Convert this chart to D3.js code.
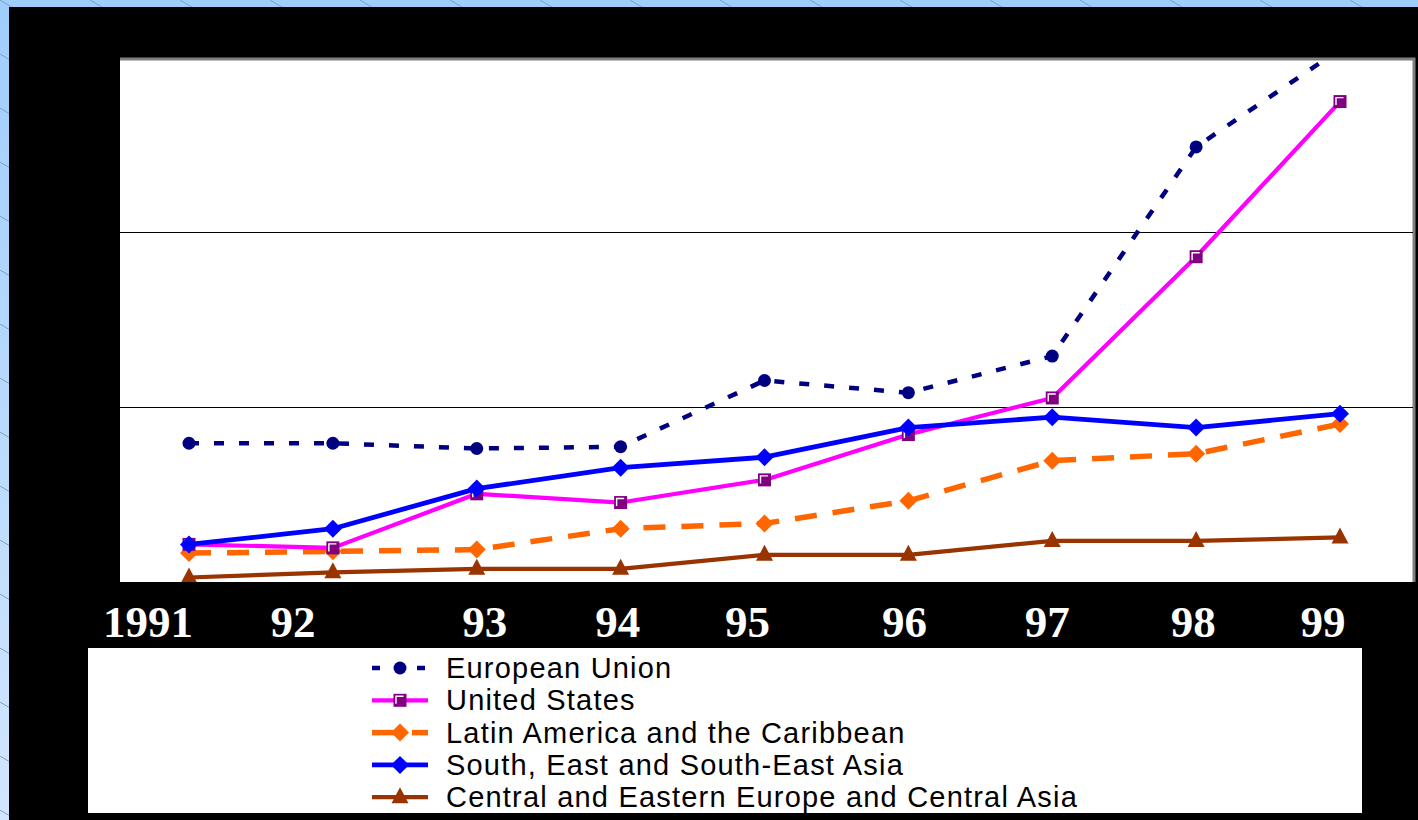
<!DOCTYPE html>
<html>
<head>
<meta charset="utf-8">
<script src="https://cdn.jsdelivr.net/npm/d3@7"></script>
<style>
  html, body { margin: 0; padding: 0; background: #ffffff; }
  svg { display: block; }
</style>
</head>
<body>
<svg id="chart" width="1418" height="820"></svg>
<script>
// ---- data ----
const years = ["1991", "92", "93", "94", "95", "96", "97", "98", "99"];
const seriesNames = [
  "European Union",
  "United States",
  "Latin America and the Caribbean",
  "South, East and South-East Asia",
  "Central and Eastern Europe and Central Asia"
];
const europeanUnion = [7.9, 7.9, 7.6, 7.7, 11.5, 10.8, 12.9, 24.9, 30.5];
const unitedStates  = [2.1, 1.9, 5.0, 4.5, 5.8, 8.4, 10.5, 18.6, 27.5];
const latinAmerica  = [1.6, 1.7, 1.8, 3.0, 3.3, 4.6, 6.9, 7.3, 9.0];
const asia          = [2.1, 3.0, 5.3, 6.5, 7.1, 8.8, 9.4, 8.8, 9.6];
const centralEurope = [0.2, 0.5, 0.7, 0.7, 1.5, 1.5, 2.3, 2.3, 2.5];
const gridValues = [10, 20];

// ---- layout ----
const W = 1418, H = 820;
const plot = { x0: 120, y0: 58, x1: 1413, y1: 582 };
const yMax = 30;
// horizontal nudges for the year labels under the plot
const labelNudge = [-41, -40, 8, -3, -17, -4, -5, -3, -17];

const svg = d3.select("#chart");
const defs = svg.append("defs");

// background: pale blue with faint diagonal hatching
const grad = defs.append("linearGradient").attr("id", "bgGrad")
  .attr("x1", 0).attr("y1", 0).attr("x2", 0).attr("y2", 1);
grad.append("stop").attr("offset", "0%").attr("stop-color", "#9fcdfc");
grad.append("stop").attr("offset", "100%").attr("stop-color", "#d2e6fd");

const hatch = defs.append("pattern").attr("id", "hatch")
  .attr("patternUnits", "userSpaceOnUse").attr("width", 90).attr("height", 54);
hatch.append("path").attr("d", "M0,0 L90,54")
  .attr("stroke", "#7f9ec4").attr("stroke-width", 1).attr("fill", "none");

svg.append("rect").attr("width", W).attr("height", H).attr("fill", "url(#bgGrad)");
svg.append("rect").attr("width", W).attr("height", H).attr("fill", "url(#hatch)");

// black panel
svg.append("rect").attr("x", 9).attr("y", 7).attr("width", W - 9).attr("height", H - 7)
  .attr("fill", "#000000");

// plot area
svg.append("rect").attr("x", plot.x0).attr("y", plot.y0)
  .attr("width", plot.x1 - plot.x0).attr("height", plot.y1 - plot.y0)
  .attr("fill", "#ffffff");
// gray frame along the top and right edges
svg.append("path")
  .attr("d", `M${plot.x0},${plot.y0 + 1} H${plot.x1 + 1} V${plot.y1}`)
  .attr("stroke", "#808080").attr("stroke-width", 3).attr("fill", "none");

defs.append("clipPath").attr("id", "plotClip")
  .append("rect").attr("x", plot.x0).attr("y", plot.y0 + 2.5)
  .attr("width", plot.x1 - plot.x0 - 0.5).attr("height", plot.y1 - plot.y0 - 2.5);

// scales
const x = d3.scalePoint().domain(years).range([189, 1340]);
const y = d3.scaleLinear().domain([0, yMax]).range([plot.y1 - 1, plot.y0]);

// gridlines
svg.append("g").selectAll("line").data(gridValues).join("line")
  .attr("x1", plot.x0).attr("x2", plot.x1)
  .attr("y1", d => Math.round(y(d)) + 0.5).attr("y2", d => Math.round(y(d)) + 0.5)
  .attr("stroke", "#000000").attr("stroke-width", 1.2);

// year labels
svg.append("g").selectAll("text").data(years).join("text")
  .attr("x", (d, i) => x(d) + labelNudge[i])
  .attr("y", 637)
  .attr("text-anchor", "middle")
  .attr("font-family", "'Liberation Serif', 'Times New Roman', serif")
  .attr("font-weight", "bold")
  .attr("font-size", 45)
  .attr("fill", "#ffffff")
  .text(d => d);

// marker drawers
const markers = {
  circle(g, color) {
    g.append("circle").attr("r", 6.5).attr("fill", color);
  },
  square(g, color) {
    g.append("rect").attr("x", -6.5).attr("y", -6.5).attr("width", 13).attr("height", 13)
      .attr("fill", color);
    g.append("path").attr("d", "M-4,3.5 V-4 H3.5")
      .attr("stroke", "#ffffff").attr("stroke-width", 1.4).attr("fill", "none");
  },
  diamond(g, color) {
    g.append("path").attr("d", "M0,-9 L9,0 L0,9 L-9,0 Z").attr("fill", color);
  },
  triangle(g, color) {
    g.append("path").attr("d", "M0,-10 L8.5,6 L-8.5,6 Z").attr("fill", color);
  }
};

const series = [
  { name: seriesNames[0], values: europeanUnion, line: "#000080", marker: "circle",  markColor: "#000080", width: 4.5, dash: "10,15" },
  { name: seriesNames[1], values: unitedStates,  line: "#ff00ff", marker: "square",  markColor: "#800080", width: 4.2, dash: null },
  { name: seriesNames[2], values: latinAmerica,  line: "#ff6600", marker: "diamond", markColor: "#ff6600", width: 5.5, dash: "22,16" },
  { name: seriesNames[3], values: asia,          line: "#0000ff", marker: "diamond", markColor: "#0000ff", width: 4.8, dash: null },
  { name: seriesNames[4], values: centralEurope, line: "#993300", marker: "triangle",markColor: "#993300", width: 4.2, dash: null }
];

const lineGen = d3.line().x((d, i) => x(years[i])).y(d => y(d));
const drawOrder = [4, 2, 1, 3, 0];

const plotG = svg.append("g").attr("clip-path", "url(#plotClip)");
drawOrder.forEach(k => {
  const s = series[k];
  const g = plotG.append("g");
  g.append("path").datum(s.values)
    .attr("d", lineGen)
    .attr("fill", "none")
    .attr("stroke", s.line)
    .attr("stroke-width", s.width)
    .attr("stroke-dasharray", s.dash)
    .attr("stroke-linejoin", "round");
  s.values.forEach((v, i) => {
    const m = g.append("g").attr("transform", `translate(${x(years[i])},${y(v)})`);
    markers[s.marker](m, s.markColor);
  });
});

// legend
svg.append("rect").attr("x", 88).attr("y", 648).attr("width", 1274).attr("height", 165)
  .attr("fill", "#ffffff");
const legend = svg.append("g");
series.forEach((s, i) => {
  const cy = 668 + i * 32.3;
  const row = legend.append("g");
  if (s.dash) {
    const d = s.marker === "circle" ? [[372, 380], [417, 425]] : [[372, 400], [412, 428]];
    d.forEach(([a, b]) => row.append("line")
      .attr("x1", a).attr("x2", b).attr("y1", cy).attr("y2", cy)
      .attr("stroke", s.line).attr("stroke-width", s.width));
  } else {
    row.append("line").attr("x1", 372).attr("x2", 428).attr("y1", cy).attr("y2", cy)
      .attr("stroke", s.line).attr("stroke-width", s.width);
  }
  const m = row.append("g").attr("transform", `translate(400,${cy})`);
  markers[s.marker](m, s.markColor);
  row.append("text")
    .attr("x", 446).attr("y", cy + 10)
    .attr("font-family", "'Liberation Sans', Arial, sans-serif")
    .attr("font-size", 29)
    .attr("letter-spacing", 1.2)
    .attr("fill", "#000000")
    .text(s.name);
});
</script>
</body>
</html>
